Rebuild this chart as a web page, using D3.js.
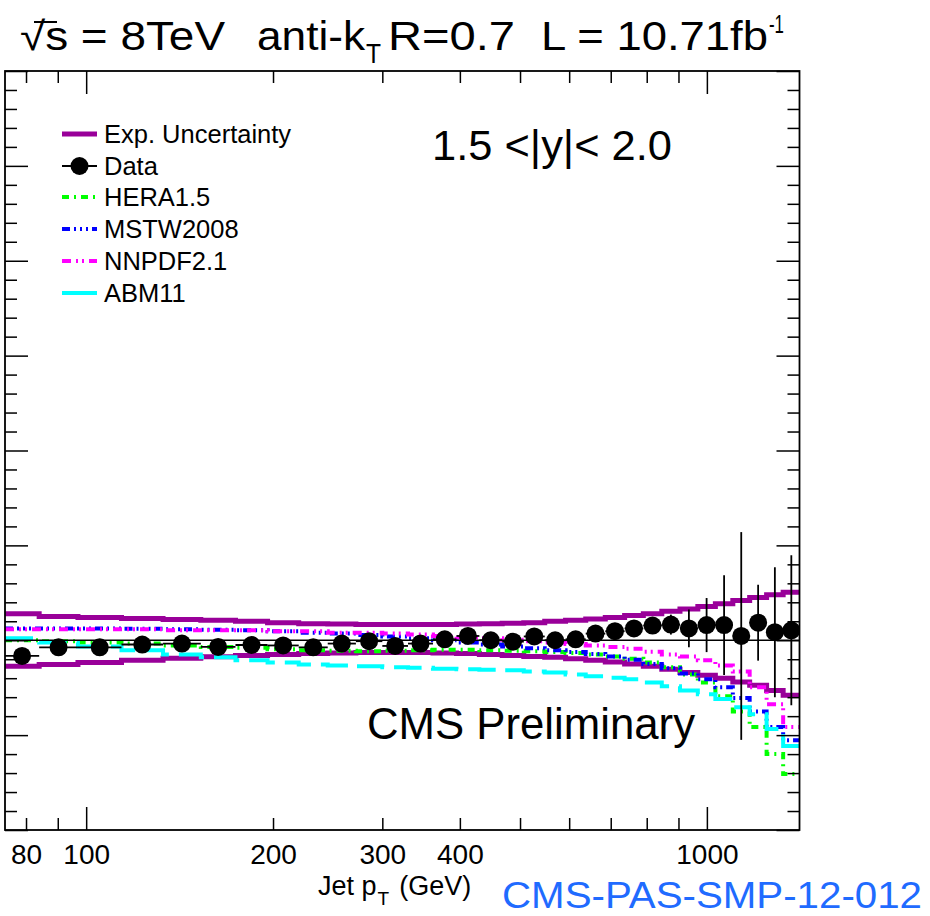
<!DOCTYPE html>
<html>
<head>
<meta charset="utf-8">
<script src="https://cdn.jsdelivr.net/npm/d3@7"></script>
<style>
  html, body { margin: 0; padding: 0; background: #fff; }
  svg { display: block; font-family: "Liberation Sans", Arial, Helvetica, sans-serif; }
</style>
</head>
<body>
<svg id="chart" width="930" height="916"></svg>
<script>
// ---------------- DATA ----------------
const binEdges = [74, 84, 97, 114, 133, 153, 174, 196, 220, 245, 272, 300, 330, 362, 395, 430, 468, 507, 548, 592, 638, 686, 737, 790, 846, 905, 967, 1032, 1101, 1172, 1248, 1327, 1410];

const dataRatio = [0.967, 0.985, 0.985, 0.991, 0.993, 0.986, 0.990, 0.989, 0.985, 0.993, 0.998, 0.988, 0.993, 1.002, 1.009, 1.000, 0.997, 1.008, 1.000, 1.002, 1.014, 1.019, 1.025, 1.031, 1.033, 1.025, 1.032, 1.032, 1.009, 1.037, 1.017, 1.021];
const dataError = [0.002, 0.002, 0.002, 0.002, 0.002, 0.002, 0.002, 0.002, 0.002, 0.002, 0.003, 0.003, 0.003, 0.003, 0.003, 0.003, 0.004, 0.004, 0.005, 0.006, 0.008, 0.011, 0.013, 0.017, 0.021, 0.040, 0.057, 0.105, 0.219, 0.080, 0.137, 0.158];

const expUncUp = [1.056, 1.050, 1.048, 1.046, 1.044, 1.042, 1.040, 1.037, 1.035, 1.034, 1.033, 1.033, 1.033, 1.033, 1.034, 1.035, 1.036, 1.037, 1.040, 1.042, 1.045, 1.048, 1.052, 1.056, 1.061, 1.066, 1.071, 1.077, 1.084, 1.090, 1.096, 1.101];
const expUncDown = [0.945, 0.949, 0.953, 0.958, 0.962, 0.965, 0.968, 0.970, 0.972, 0.973, 0.974, 0.974, 0.974, 0.973, 0.972, 0.970, 0.968, 0.966, 0.964, 0.961, 0.958, 0.954, 0.950, 0.945, 0.939, 0.932, 0.926, 0.920, 0.912, 0.905, 0.894, 0.884];

const hera15 = [1.000, 0.998, 0.995, 0.993, 0.989, 0.986, 0.984, 0.981, 0.979, 0.978, 0.977, 0.978, 0.979, 0.980, 0.980, 0.979, 0.978, 0.977, 0.975, 0.973, 0.970, 0.966, 0.961, 0.953, 0.943, 0.928, 0.911, 0.882, 0.850, 0.817, 0.760, 0.718];
const mstw2008 = [1.025, 1.025, 1.025, 1.024, 1.023, 1.022, 1.021, 1.019, 1.016, 1.014, 1.011, 1.008, 1.004, 1.000, 0.995, 0.991, 0.987, 0.983, 0.979, 0.975, 0.971, 0.966, 0.959, 0.950, 0.941, 0.930, 0.918, 0.901, 0.878, 0.850, 0.817, 0.789];
const nnpdf21 = [1.023, 1.023, 1.023, 1.023, 1.021, 1.021, 1.021, 1.019, 1.019, 1.016, 1.016, 1.014, 1.012, 1.009, 1.006, 1.004, 1.001, 0.998, 0.995, 0.992, 0.989, 0.986, 0.982, 0.976, 0.970, 0.966, 0.958, 0.947, 0.934, 0.901, 0.865, 0.817];
const abm11 = [1.004, 0.995, 0.987, 0.979, 0.970, 0.964, 0.958, 0.953, 0.949, 0.947, 0.945, 0.943, 0.942, 0.940, 0.939, 0.938, 0.937, 0.934, 0.932, 0.928, 0.924, 0.921, 0.918, 0.911, 0.903, 0.894, 0.886, 0.876, 0.859, 0.844, 0.813, 0.777];

const xMajorTicks = [100, 1000];
const xMinorTicks = [80, 90, 200, 300, 400, 500, 600, 700, 800, 900];
const xTickLabels = [80, 100, 200, 300, 400, 1000];
const yMajorTicks = [0.6, 0.8, 1.0, 1.2, 1.4, 1.6, 1.8, 2.0, 2.2];

const legendLabels = ["Exp. Uncertainty", "Data", "HERA1.5", "MSTW2008", "NNPDF2.1", "ABM11"];

// ---------------- LAYOUT ----------------
const svg = d3.select("#chart");
const L = 5, R = 799.5, T = 71, B = 830;
const x = d3.scaleLog().domain([74, 1410]).range([L, R]);
const y = d3.scaleLinear().domain([0.6, 2.2]).range([B, T]);

const styles = {
  exp:   { color: "#990099", width: 5, dash: null },
  hera:  { color: "#00ff00", width: 4, dash: "7 5 2 5" },
  mstw:  { color: "#0000ff", width: 4, dash: "8 4 2 4 2 4 2 4" },
  nnpdf: { color: "#ff00ff", width: 4, dash: "9 5 2 4 2 5" },
  abm:   { color: "#00ffff", width: 4, dash: "28 10" }
};

svg.append("defs").append("clipPath").attr("id", "plotclip")
  .append("rect").attr("x", L).attr("y", T).attr("width", R - L).attr("height", B - T);

const plot = svg.append("g").attr("clip-path", "url(#plotclip)");

function stepPoints(vals) {
  const pts = vals.map((v, i) => [binEdges[i], v]);
  pts.push([binEdges[binEdges.length - 1], vals[vals.length - 1]]);
  return pts;
}
const stepLine = d3.line().x(d => x(d[0])).y(d => y(d[1])).curve(d3.curveStepAfter);

function drawHist(vals, st) {
  plot.append("path")
    .attr("d", stepLine(stepPoints(vals)))
    .attr("fill", "none")
    .attr("stroke", st.color)
    .attr("stroke-width", st.width)
    .attr("stroke-dasharray", st.dash);
}

drawHist(expUncUp, styles.exp);
drawHist(expUncDown, styles.exp);
drawHist(hera15, styles.hera);
drawHist(mstw2008, styles.mstw);
drawHist(nnpdf21, styles.nnpdf);
drawHist(abm11, styles.abm);

// ratio = 1 line
plot.append("line")
  .attr("x1", L).attr("x2", R).attr("y1", y(1)).attr("y2", y(1))
  .attr("stroke", "#000").attr("stroke-width", 1.6);

// data
const centers = dataRatio.map((v, i) => Math.sqrt(binEdges[i] * binEdges[i + 1]));
const dg = plot.append("g");
dataRatio.forEach((v, i) => {
  dg.append("line")
    .attr("x1", x(binEdges[i])).attr("x2", x(binEdges[i + 1]))
    .attr("y1", y(v)).attr("y2", y(v))
    .attr("stroke", "#000").attr("stroke-width", 1.8);
  dg.append("line")
    .attr("x1", x(centers[i])).attr("x2", x(centers[i]))
    .attr("y1", y(v - dataError[i])).attr("y2", y(v + dataError[i]))
    .attr("stroke", "#000").attr("stroke-width", 1.8);
});
dg.selectAll("circle").data(dataRatio).join("circle")
  .attr("cx", (d, i) => x(centers[i]))
  .attr("cy", d => y(d))
  .attr("r", 9)
  .attr("fill", "#000");

// ---------------- AXES / FRAME ----------------
const axisG = svg.append("g");
function tickAxis(axisFn, scale, values, size, tx, ty) {
  const g = axisG.append("g").attr("transform", `translate(${tx},${ty})`)
    .call(axisFn(scale).tickValues(values).tickSize(size).tickFormat(""));
  g.select(".domain").remove();
  g.selectAll("line").attr("stroke", "#000").attr("stroke-width", 1.5);
  return g;
}
tickAxis(d3.axisBottom, x, xMajorTicks, -23, 0, B);
tickAxis(d3.axisBottom, x, xMinorTicks, -12, 0, B);
tickAxis(d3.axisTop, x, xMajorTicks, -23, 0, T);
tickAxis(d3.axisTop, x, xMinorTicks, -12, 0, T);

const yMinor = [];
for (let k = 0; k < yMajorTicks.length - 1; k++) {
  const a = yMajorTicks[k], b = yMajorTicks[k + 1];
  for (let j = 1; j < 5; j++) yMinor.push(a + (b - a) * j / 5);
}
tickAxis(d3.axisLeft, y, yMajorTicks, -23, L, 0);
tickAxis(d3.axisLeft, y, yMinor, -12, L, 0);
tickAxis(d3.axisRight, y, yMajorTicks, -23, R, 0);
tickAxis(d3.axisRight, y, yMinor, -12, R, 0);

svg.append("rect").attr("x", L).attr("y", T).attr("width", R - L).attr("height", B - T)
  .attr("fill", "none").attr("stroke", "#000").attr("stroke-width", 1.8);

// x tick labels
const lab = axisG.append("g").attr("transform", `translate(0,${B})`)
  .call(d3.axisBottom(x).tickValues(xTickLabels).tickSize(0).tickFormat(d3.format("d")));
lab.select(".domain").remove();
lab.selectAll("text")
  .attr("y", 34).attr("dy", 0)
  .attr("font-size", 28)
  .attr("font-family", "Liberation Sans, Arial, sans-serif")
  .attr("fill", "#000");

// x title
const xt = svg.append("text").attr("x", 318).attr("y", 895)
  .attr("font-size", 27).attr("fill", "#000");
xt.append("tspan").text("Jet p");
xt.append("tspan").attr("font-size", 19).attr("dy", 10).attr("dx", 1).text("T");
xt.append("tspan").attr("dy", -10).attr("dx", 10).text("(GeV)");

// CMS-PAS label
svg.append("text").attr("x", 502).attr("y", 908)
  .attr("font-size", 36).attr("fill", "#1f6bff")
  .attr("textLength", 420).attr("lengthAdjust", "spacingAndGlyphs")
  .text("CMS-PAS-SMP-12-012");

// ---------------- TITLE ----------------
function seg(txt, xx, yy, fs, len) {
  const t = svg.append("text").attr("x", xx).attr("y", yy).attr("font-size", fs).attr("fill", "#000").text(txt);
  if (len) t.attr("textLength", len).attr("lengthAdjust", "spacingAndGlyphs");
  return t;
}
seg("\u221As = 8TeV", 20, 50, 40, 205);
svg.append("line").attr("x1", 34).attr("x2", 57).attr("y1", 22).attr("y2", 22)
  .attr("stroke", "#000").attr("stroke-width", 2);
seg("anti-k", 257, 50, 40, 108);
seg("T", 366, 63, 28, 15);
seg("R=0.7", 388, 50, 40, 127);
seg("L = 10.71fb", 541, 50, 40, 227);
seg("-1", 769, 33, 26, 15);

svg.append("text").attr("x", 432).attr("y", 160).attr("font-size", 42).attr("fill", "#000")
  .attr("textLength", 240).attr("lengthAdjust", "spacingAndGlyphs")
  .text("1.5 <|y|< 2.0");

svg.append("text").attr("x", 367).attr("y", 739).attr("font-size", 44).attr("fill", "#000")
  .attr("textLength", 328).attr("lengthAdjust", "spacingAndGlyphs")
  .text("CMS Preliminary");

// ---------------- LEGEND ----------------
const legY = [134, 166, 197, 229, 261, 293];
const legStyles = [styles.exp, null, styles.hera, styles.mstw, styles.nnpdf, { color: "#00ffff", width: 4, dash: null }];
const lg = svg.append("g");
legendLabels.forEach((name, i) => {
  const yy = legY[i];
  if (i === 1) {
    lg.append("line").attr("x1", 62).attr("x2", 97).attr("y1", yy).attr("y2", yy)
      .attr("stroke", "#000").attr("stroke-width", 1.8);
    lg.append("circle").attr("cx", 79.5).attr("cy", yy).attr("r", 9).attr("fill", "#000");
  } else {
    const st = legStyles[i];
    lg.append("line").attr("x1", 62).attr("x2", 97).attr("y1", yy).attr("y2", yy)
      .attr("stroke", st.color).attr("stroke-width", st.width)
      .attr("stroke-dasharray", st.dash);
  }
  lg.append("text").attr("x", 104).attr("y", yy + 9).attr("font-size", 25.5).attr("fill", "#000").text(name);
});
</script>
</body>
</html>
